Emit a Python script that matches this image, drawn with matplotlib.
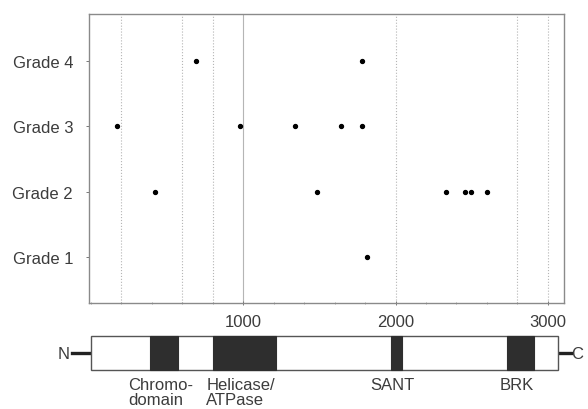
import matplotlib
matplotlib.use("Agg")
import matplotlib.pyplot as plt
from matplotlib.patches import Rectangle
from matplotlib.ticker import MultipleLocator

plt.rcParams['font.family'] = ['Liberation Sans', 'DejaVu Sans']

# mutation positions (amino acid) per tumour grade
grades = ['Grade 1', 'Grade 2', 'Grade 3', 'Grade 4']
grade1_pos = [1815]
grade2_pos = [422, 1484, 2331, 2456, 2495, 2598]
grade3_pos = [171, 978, 1339, 1644, 1777]
grade4_pos = [692, 1781]

# protein domain map
protein_len = 3065
domain_names = ['Chromo-\ndomain', 'Helicase/\nATPase', 'SANT', 'BRK']
domain_start = [387, 799, 1968, 2729]
domain_end = [573, 1215, 2044, 2911]

x_ticks = [1000, 2000, 3000]
grid_x = [200, 600, 800, 1000, 2000, 2800, 3000]

text_col = '#3c3c3c'
xlim = (-13, 3106)

fig = plt.figure(figsize=(5.88, 4.10), dpi=100)
L, R = 89 / 588, 564 / 588
ax = fig.add_axes([L, 106 / 410, R - L, 289 / 410])

for i, pos in enumerate([grade1_pos, grade2_pos, grade3_pos, grade4_pos]):
    ax.scatter(pos, [i + 1] * len(pos), s=8, color='black', zorder=3)

for gx in grid_x:
    ls = '-' if gx == 1000 else ':'
    ax.axvline(gx, color='#b5b5b5', lw=0.8, ls=ls, zorder=1)

ax.set_xlim(*xlim)
ax.set_ylim(0.3, 4.72)
ax.set_yticks([1, 2, 3, 4])
ax.set_yticklabels(grades)
ax.set_xticks(x_ticks)
ax.set_xticklabels([str(t) for t in x_ticks])
ax.xaxis.set_minor_locator(MultipleLocator(200))
ax.tick_params(axis='y', length=2.5, width=0.7, color='#777', pad=9,
               labelsize=12, labelcolor=text_col)
ax.tick_params(axis='x', which='major', length=2.5, width=0.7, color='#777',
               direction='inout', pad=7, labelsize=12, labelcolor=text_col)
ax.tick_params(axis='x', which='minor', length=2, width=0.6, color='#999',
               direction='inout')
for sp in ax.spines.values():
    sp.set_color('#8a8a8a')
    sp.set_linewidth(1.0)

# domain diagram below the axis
ax2 = fig.add_axes([L, 0, R - L, 82 / 410])
ax2.set_xlim(*xlim)
ax2.set_ylim(-1.147, 1.265)
ax2.axis('off')

ax2.add_patch(Rectangle((0, 0), protein_len, 1, facecolor='white',
                        edgecolor='#555', lw=1.0, zorder=2))
for name, s, e in zip(domain_names, domain_start, domain_end):
    ax2.add_patch(Rectangle((s, 0), e - s, 1, facecolor='#2e2e2e',
                            edgecolor='#2e2e2e', lw=0.8, zorder=3))
    ax2.text((s + e) / 2 - 25, -0.22, name, ha='center', va='top',
             multialignment='left', fontsize=12, color=text_col, linespacing=1.0)

ax2.plot([-125, 0], [0.5, 0.5], color='#222', lw=2.4, clip_on=False, zorder=1)
ax2.plot([protein_len, 3150], [0.5, 0.5], color='#222', lw=2.4, clip_on=False, zorder=1)
ax2.text(-140, 0.5, 'N', ha='right', va='center', fontsize=12, color=text_col)
ax2.text(3156, 0.5, 'C', ha='left', va='center', fontsize=12, color=text_col)

fig.savefig('out.png', dpi=100)
